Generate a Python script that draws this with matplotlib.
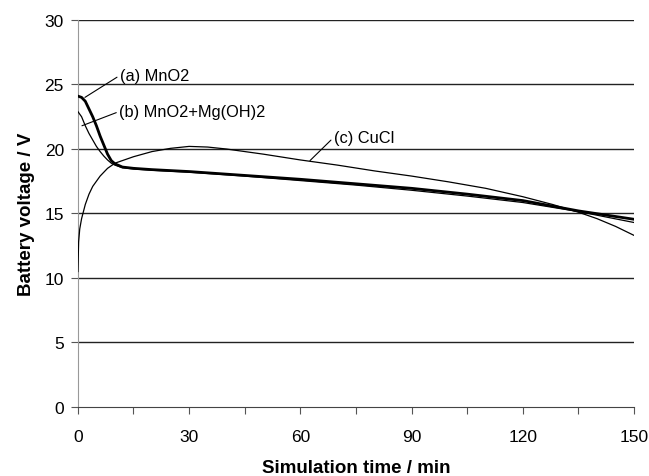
import matplotlib
matplotlib.use("Agg")
import matplotlib.pyplot as plt
from matplotlib.ticker import MultipleLocator

plt.rcParams['font.family'] = ['Liberation Sans', 'DejaVu Sans']

# (a) MnO2
t_a = [0, 1, 2, 3, 4, 5, 6, 7, 8, 9, 10, 12, 15, 20, 30, 45, 60, 75, 90, 105, 120, 135, 150]
v_a = [24.1, 24.0, 23.7, 23.1, 22.5, 21.8, 21.0, 20.3, 19.6, 19.1, 18.85, 18.6, 18.5, 18.4,
       18.25, 17.95, 17.65, 17.3, 16.95, 16.5, 16.0, 15.2, 14.55]
# (b) MnO2+Mg(OH)2
t_b = [0, 1, 2, 3, 4, 5, 6, 7, 8, 9, 10, 12, 15, 20, 30, 45, 60, 75, 90, 105, 120, 135, 150]
v_b = [22.9, 22.5, 21.8, 21.2, 20.7, 20.2, 19.8, 19.45, 19.15, 18.9, 18.75, 18.55, 18.45, 18.35,
       18.2, 17.9, 17.55, 17.2, 16.8, 16.35, 15.85, 15.15, 14.3]
# (c) CuCl
t_c = [0, 0.2, 0.5, 1, 2, 3, 4, 6, 8, 10, 15, 20, 25, 30, 35, 40, 50, 60, 70, 80, 90, 100,
       110, 120, 128, 135, 140, 145, 150]
v_c = [10.5, 12.8, 13.8, 14.6, 15.7, 16.5, 17.1, 17.9, 18.5, 18.9, 19.4, 19.8, 20.05, 20.2,
       20.15, 20.0, 19.6, 19.15, 18.75, 18.3, 17.9, 17.45, 16.95, 16.3, 15.7, 15.1, 14.6, 14.0, 13.3]

labels = ["(a) MnO2", "(b) MnO2+Mg(OH)2", "(c) CuCl"]
x_ticks = [0, 30, 60, 90, 120, 150]
y_ticks = [0, 5, 10, 15, 20, 25, 30]

fig = plt.figure(figsize=(6.49, 4.77), dpi=100)
ax = fig.add_axes([0.120, 0.1447, 0.857, 0.8113])

for y in y_ticks[1:]:
    ax.axhline(y, color='#222222', lw=1.0, zorder=1)

ax.plot(t_c, v_c, color='black', lw=0.9, zorder=3)
ax.plot(t_b, v_b, color='black', lw=0.9, zorder=3)
ax.plot(t_a, v_a, color='black', lw=2.0, zorder=4)

ax.set_xlim(0, 150)
ax.set_ylim(0, 30)
ax.set_xticks(x_ticks)
ax.set_yticks(y_ticks)
ax.xaxis.set_minor_locator(MultipleLocator(15))
ax.tick_params(axis='both', which='both', direction='out', length=5, width=0.8,
               color='#555555', labelsize=12.5, pad=5)
ax.tick_params(axis='x', pad=11)

for s in ['top', 'right']:
    ax.spines[s].set_visible(False)
ax.spines['left'].set_color('#999999')
ax.spines['bottom'].set_color('#444444')

ax.set_xlabel("Simulation time / min", fontsize=13.5, fontweight='bold', labelpad=11)
ax.set_ylabel("Battery voltage / V", fontsize=13.5, fontweight='bold', labelpad=7)

arrow = dict(arrowstyle='-', color='black', lw=0.8, shrinkA=0, shrinkB=0)
ax.annotate(labels[0], xy=(1.9, 24.0), xytext=(11.3, 25.7), fontsize=11.8,
            ha='left', va='center', arrowprops=dict(arrow, relpos=(0, 0.5)))
ax.annotate(labels[1], xy=(1.1, 21.8), xytext=(11.1, 22.9), fontsize=11.8,
            ha='left', va='center', arrowprops=dict(arrow, relpos=(0, 0.5)))
ax.annotate(labels[2], xy=(62.6, 19.1), xytext=(69, 20.9), fontsize=11.8,
            ha='left', va='center', arrowprops=dict(arrow, relpos=(0, 0.5)))

fig.savefig("out.png", dpi=100)
